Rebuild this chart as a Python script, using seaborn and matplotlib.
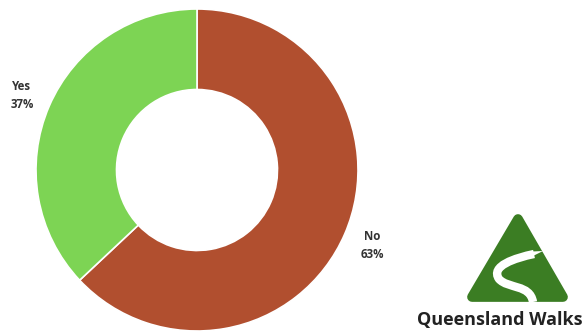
import matplotlib
matplotlib.use("Agg")
import matplotlib.pyplot as plt
import seaborn as sns
from matplotlib.patches import Polygon, PathPatch
from matplotlib.path import Path

sns.set_theme(style="white")
plt.rcParams['font.family'] = ['Open Sans', 'DejaVu Sans']

categories = ["No", "Yes"]
values = [63, 37]
colors = ["#B14F2F", "#7DD454"]
labels = ["No\n63%", "Yes\n37%"]

W, H = 587, 331
fig = plt.figure(figsize=(W / 100, H / 100), dpi=100)
fig.patch.set_facecolor("white")
ax = fig.add_axes([0, 0, 1, 1])

cx, cy, r = 197, H - 170, 161
ax.pie(values, colors=colors, startangle=90, counterclock=False,
       center=(cx, cy), radius=r,
       wedgeprops=dict(width=r * 0.5, edgecolor="white", linewidth=1.2))

ax.text(372, H - 246, labels[0], ha="center", va="center", fontsize=8.3,
        fontweight="bold", color="#333333", linespacing=1.5)
ax.text(22, H - 96, labels[1], ha="center", va="center", fontsize=8.3,
        fontweight="bold", color="#333333", linespacing=1.5)

# logo
green = "#3B7D23"
tri = Polygon([(518, H - 219), (472, H - 297), (563, H - 297)], closed=True,
              facecolor=green, edgecolor=green, linewidth=7, joinstyle="round")
ax.add_patch(tri)
verts = [(534, H - 254), (515, H - 258), (490, H - 266), (499, H - 279),
         (508, H - 289), (530, H - 284), (533, H - 302)]
codes = [Path.MOVETO] + [Path.CURVE4] * 6
ax.add_patch(PathPatch(Path(verts, codes), facecolor="none", edgecolor="white",
                       linewidth=6, capstyle="butt"))
ax.add_patch(Polygon([(532, H - 251.5), (543, H - 251), (531, H - 257)], closed=True,
                     facecolor="white", edgecolor="none"))
ax.text(500, H - 320, "Queensland Walks", ha="center", va="center", fontsize=13,
        fontweight="bold", color="#222222")

ax.set_xlim(0, W)
ax.set_ylim(0, H)
ax.set_aspect("equal")
ax.axis("off")
fig.savefig("out.png", dpi=100, facecolor="white")
